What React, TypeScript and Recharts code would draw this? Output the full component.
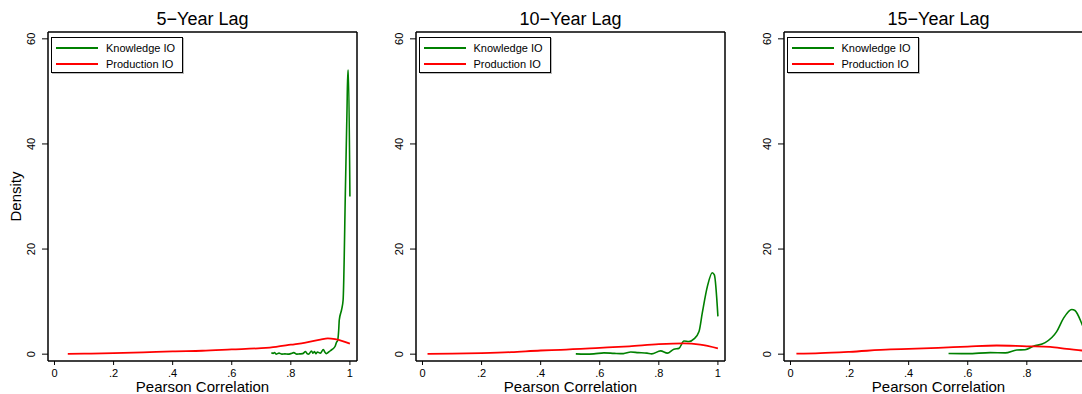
import { LineChart, Line, XAxis, YAxis, Legend } from "recharts";

const xTicks = [0, 0.2, 0.4, 0.6, 0.8, 1];
const yTicks = [0, 20, 40, 60];
const seriesNames = ["Knowledge IO", "Production IO"];
const panelTitles = ["5−Year Lag", "10−Year Lag", "15−Year Lag"];

// [pearson correlation, density]
const knowledge5 = [
  [0.734, 0.25], [0.74, 0.15], [0.745, 0.3], [0.75, 0.0], [0.76, 0.2], [0.77, 0.0],
  [0.78, 0.05], [0.79, 0.0], [0.8, 0.1], [0.81, 0.3], [0.82, 0.0], [0.83, 0.05],
  [0.84, 0.1], [0.85, 0.5], [0.855, 0.1], [0.86, 0.0], [0.87, 0.6], [0.875, 0.2],
  [0.88, 0.5], [0.885, 0.1], [0.89, 0.4], [0.9, 0.2], [0.91, 0.9], [0.915, 0.4],
  [0.92, 0.1], [0.93, 0.5], [0.94, 0.9], [0.95, 1.5], [0.955, 2.3], [0.958, 2.5],
  [0.962, 4.5], [0.964, 6.5], [0.972, 8.5], [0.977, 10.3], [0.985, 32], [0.99, 46],
  [0.993, 54], [0.995, 54], [1.0, 30],
];
const production5 = [
  [0.045, 0.05], [0.1, 0.1], [0.2, 0.2], [0.3, 0.35], [0.4, 0.55], [0.5, 0.65],
  [0.6, 0.9], [0.7, 1.15], [0.75, 1.4], [0.8, 1.8], [0.85, 2.2], [0.9, 2.75],
  [0.925, 3.0], [0.95, 2.85], [0.975, 2.5], [1.0, 2.0],
];
const knowledge10 = [
  [0.519, 0.05], [0.55, 0.0], [0.58, 0.05], [0.614, 0.25], [0.65, 0.15], [0.68, 0.1],
  [0.705, 0.4], [0.73, 0.3], [0.76, 0.2], [0.776, 0.05], [0.806, 0.63], [0.829, 0.2],
  [0.851, 0.95], [0.868, 1.1], [0.885, 2.5], [0.902, 2.4], [0.919, 2.9], [0.936, 4.3],
  [0.947, 7.8], [0.964, 12.8], [0.981, 15.5], [0.988, 15.1], [1.0, 7.2],
];
const production10 = [
  [0.017, 0.05], [0.1, 0.1], [0.2, 0.2], [0.3, 0.38], [0.4, 0.7], [0.468, 0.83],
  [0.6, 1.2], [0.7, 1.5], [0.8, 1.9], [0.885, 2.05], [0.94, 1.8], [1.0, 1.1],
];
const knowledge15 = [
  [0.535, 0.13], [0.6, 0.1], [0.676, 0.3], [0.727, 0.25], [0.766, 0.8], [0.794, 0.85],
  [0.822, 1.5], [0.862, 2.2], [0.901, 4.3], [0.924, 6.8], [0.952, 8.5], [0.963, 8.3],
  [0.986, 5.8], [1.0, 3.8],
];
const production15 = [
  [0.02, 0.1], [0.1, 0.2], [0.2, 0.45], [0.338, 0.9], [0.4, 1.0], [0.5, 1.2],
  [0.6, 1.45], [0.698, 1.65], [0.8, 1.5], [0.879, 1.4], [0.935, 1.0], [0.986, 0.7],
  [1.0, 0.6],
];

const GREEN = "#008000";
const RED = "#ff0000";
const FONT = "'Liberation Sans', Arial, Helvetica, sans-serif";
const X_DOMAIN = [-0.022, 1.024];
const Y_DOMAIN = [-1.3, 61.3];

function toPoints(pairs: number[][]) {
  return pairs.map(([x, y]) => ({ x, y }));
}

function fmtX(v: number) {
  if (v === 0) return "0";
  if (v === 1) return "1";
  return String(v).replace(/^0/, "");
}

function YTick({ x, y, payload }: any) {
  return (
    <text
      x={x}
      y={y}
      transform={`rotate(-90 ${x} ${y})`}
      textAnchor="middle"
      fontSize={11}
      fill="#000"
      fontFamily={FONT}
    >
      {payload.value}
    </text>
  );
}

function LegendBox({ payload }: any) {
  return (
    <div
      style={{
        border: "1px solid #000",
        background: "#fff",
        boxShadow: "1px 1px 0 #bbb",
        width: 130,
        height: 34,
        fontSize: 11,
        fontFamily: FONT,
        color: "#000",
      }}
    >
      {(payload || []).map((item: any, i: number) => (
        <div
          key={i}
          style={{ display: "flex", alignItems: "center", height: 16, marginTop: i === 0 ? 2 : 0 }}
        >
          <svg width={50} height={16} style={{ display: "block" }}>
            <line x1={4} x2={46} y1={8} y2={8} stroke={item.color} strokeWidth={1.8} />
          </svg>
          <span style={{ marginLeft: 4 }}>{item.value}</span>
        </div>
      ))}
    </div>
  );
}

function Panel({
  title,
  knowledge,
  production,
  left,
  showYLabel,
}: {
  title: string;
  knowledge: number[][];
  production: number[][];
  left: number;
  showYLabel: boolean;
}) {
  return (
    <div style={{ position: "absolute", left, top: 0 }}>
      <LineChart width={368} height={394} margin={{ top: 31, right: 10, bottom: 0, left: 0 }}>
        <XAxis
          dataKey="x"
          type="number"
          domain={X_DOMAIN}
          allowDataOverflow
          ticks={xTicks}
          tickFormatter={fmtX}
          height={33}
          tickSize={4}
          tickMargin={4}
          stroke="#000"
          axisLine={{ strokeWidth: 1.5 }}
          tick={{ fontSize: 11, fill: "#000", fontFamily: FONT }}
          label={{
            value: "Pearson Correlation",
            position: "insideBottom",
            offset: 2,
            fontSize: 15,
            fill: "#000",
            fontFamily: FONT,
          }}
        />
        {/* top and right axes only draw the frame and carry the title */}
        <XAxis
          xAxisId="top"
          orientation="top"
          type="number"
          domain={X_DOMAIN}
          allowDataOverflow
          height={1}
          tick={false}
          tickLine={false}
          stroke="#000"
          axisLine={{ strokeWidth: 1.5 }}
          label={{
            value: title,
            position: "top",
            offset: 6.5,
            fontSize: 18,
            fill: "#000",
            fontFamily: FONT,
          }}
        />
        <YAxis
          type="number"
          domain={Y_DOMAIN}
          allowDataOverflow
          ticks={yTicks}
          width={48}
          tickSize={6}
          tickMargin={6.5}
          stroke="#000"
          axisLine={{ strokeWidth: 1.5 }}
          tick={<YTick />}
          label={
            showYLabel
              ? {
                  value: "Density",
                  angle: -90,
                  position: "insideLeft",
                  offset: 16,
                  fontSize: 15,
                  fill: "#000",
                  fontFamily: FONT,
                  style: { textAnchor: "middle" },
                }
              : undefined
          }
        />
        <YAxis
          yAxisId="right"
          orientation="right"
          type="number"
          domain={Y_DOMAIN}
          allowDataOverflow
          width={1}
          tick={false}
          tickLine={false}
          stroke="#000"
          axisLine={{ strokeWidth: 1.5 }}
        />
        <Legend
          layout="horizontal"
          verticalAlign="middle"
          align="center"
          content={<LegendBox />}
          wrapperStyle={{ left: 51, top: 37, width: "auto", height: "auto" }}
        />
        <Line
          data={toPoints(knowledge)}
          dataKey="y"
          name={seriesNames[0]}
          type="monotone"
          stroke={GREEN}
          strokeWidth={1.6}
          dot={false}
          activeDot={false}
          isAnimationActive={false}
        />
        <Line
          data={toPoints(production)}
          dataKey="y"
          name={seriesNames[1]}
          type="monotone"
          stroke={RED}
          strokeWidth={1.8}
          dot={false}
          activeDot={false}
          isAnimationActive={false}
        />
      </LineChart>
    </div>
  );
}

export default function App() {
  return (
    <div
      style={{
        position: "absolute",
        left: 0,
        top: 0,
        width: 1082,
        height: 394,
        overflow: "hidden",
        background: "#fff",
        fontFamily: FONT,
      }}
    >
      <Panel title={panelTitles[0]} knowledge={knowledge5} production={production5} left={0} showYLabel />
      <Panel title={panelTitles[1]} knowledge={knowledge10} production={production10} left={367.5} showYLabel={false} />
      <Panel title={panelTitles[2]} knowledge={knowledge15} production={production15} left={735.5} showYLabel={false} />
    </div>
  );
}
